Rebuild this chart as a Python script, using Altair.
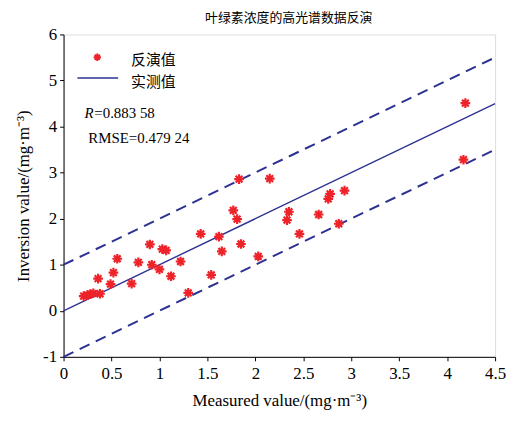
import altair as alt
import pandas as pd

# measured vs inversion values
measured = [0.21, 0.25, 0.28, 0.31, 0.38, 0.36, 0.49, 0.52, 0.56, 0.71, 0.78, 0.90, 0.92,
            1.00, 1.03, 1.07, 1.12, 1.22, 1.30, 1.43, 1.54, 1.62, 1.65, 1.77, 1.81, 1.83,
            1.85, 2.03, 2.15, 2.33, 2.35, 2.46, 2.66, 2.76, 2.78, 2.87, 2.93, 4.17, 4.19]
inversion = [0.32, 0.34, 0.36, 0.38, 0.37, 0.70, 0.58, 0.83, 1.13, 0.59, 1.05, 1.44, 1.00,
             0.90, 1.34, 1.31, 0.75, 1.07, 0.39, 1.67, 0.78, 1.61, 1.29, 2.18, 1.99, 2.86,
             1.45, 1.18, 2.87, 1.97, 2.15, 1.67, 2.09, 2.43, 2.54, 1.89, 2.61, 3.28, 4.51]

line_x = [0.0, 4.5]
line_y = [0.0, 4.5]
upper_y = [1.0, 5.5]
lower_y = [-1.0, 3.5]

x_ticks = [0, 0.5, 1, 1.5, 2, 2.5, 3, 3.5, 4, 4.5]
y_ticks = [-1, 0, 1, 2, 3, 4, 5, 6]

title_text = "叶绿素浓度的高光谱数据反演"
x_title = "Measured value/(mg·m⁻³)"
y_title = "Inversion value/(mg·m⁻³)"
legend_labels = ["反演值", "实测值"]
r_text = "=0.883 58"
rmse_text = "RMSE=0.479 24"

BLUE = "#2e3192"
RED = "#ee2229"
SERIF = "Liberation Serif"
CJK = "Noto Sans CJK SC"
STAR = "M-1,0L1,0M0,-1L0,1M-0.7,-0.7L0.7,0.7M-0.7,0.7L0.7,-0.7"

pts = pd.DataFrame({"x": measured, "y": inversion})
lines = pd.DataFrame({
    "x": line_x * 3,
    "y": line_y + upper_y + lower_y,
    "kind": ["solid"] * 2 + ["upper"] * 2 + ["lower"] * 2,
})

xscale = alt.Scale(domain=[0, 4.5], nice=False, zero=False)
yscale = alt.Scale(domain=[-1, 6], nice=False, zero=False)

common = dict(grid=False, domainColor="black", tickColor="black", tickSize=4,
              labelFont=SERIF, labelFontSize=17, labelColor="black", titleFont=SERIF,
              titleFontSize=17, titleFontWeight="normal", titleColor="black",
              labelFlush=False, labelExpr="'' + datum.value")
xaxis = alt.Axis(values=x_ticks, title=x_title, labelPadding=5, titlePadding=11, **common)
yaxis = alt.Axis(values=y_ticks, title=y_title, labelPadding=3, titlePadding=10, **common)

solid = alt.Chart(lines[lines.kind == "solid"]).mark_line(color=BLUE, strokeWidth=1.4).encode(
    x=alt.X("x:Q", scale=xscale, axis=xaxis),
    y=alt.Y("y:Q", scale=yscale, axis=yaxis),
)
dashed = alt.Chart(lines[lines.kind != "solid"]).mark_line(
    color=BLUE, strokeWidth=2, strokeDash=[11, 7]).encode(
    x=alt.X("x:Q", scale=xscale),
    y=alt.Y("y:Q", scale=yscale),
    detail="kind:N",
)
stars = alt.Chart(pts).mark_point(shape=STAR, filled=False, stroke=RED, strokeWidth=2.2,
                                  size=95, opacity=1).encode(
    x=alt.X("x:Q", scale=xscale),
    y=alt.Y("y:Q", scale=yscale),
)

one = pd.DataFrame({"a": [0]})
title_mark = alt.Chart(one).mark_text(text=title_text, font=CJK, fontSize=13, align="center",
                                      baseline="middle", color="black").encode(
    x=alt.value(227), y=alt.value(-17))
leg_star = alt.Chart(one).mark_point(shape=STAR, filled=False, stroke=RED, strokeWidth=2,
                                     size=55, opacity=1).encode(
    x=alt.value(34), y=alt.value(23))
leg_line = alt.Chart(one).mark_rule(color=BLUE, strokeWidth=1.5).encode(
    x=alt.value(14), x2=alt.value(55), y=alt.value(44))
leg_t1 = alt.Chart(one).mark_text(text=legend_labels[0], font=CJK, fontSize=15, align="left",
                                  baseline="middle", color="black").encode(
    x=alt.value(68), y=alt.value(26))
leg_t2 = alt.Chart(one).mark_text(text=legend_labels[1], font=CJK, fontSize=15, align="left",
                                  baseline="middle", color="black").encode(
    x=alt.value(68), y=alt.value(48))
r_lbl = alt.Chart(one).mark_text(text="R", font=SERIF, fontSize=15, fontStyle="italic",
                                 align="left", baseline="middle", color="black").encode(
    x=alt.value(21), y=alt.value(79))
r_val = alt.Chart(one).mark_text(text=r_text, font=SERIF, fontSize=15, align="left",
                                 baseline="middle", color="black").encode(
    x=alt.value(31), y=alt.value(79))
rmse = alt.Chart(one).mark_text(text=rmse_text, font=SERIF, fontSize=15, align="left",
                                baseline="middle", color="black").encode(
    x=alt.value(25), y=alt.value(104))

chart = alt.layer(dashed, solid, stars, title_mark, leg_star, leg_line, leg_t1, leg_t2,
                  r_lbl, r_val, rmse).properties(
    width=435, height=325,
    autosize=alt.AutoSizeParams(type="none"),
    padding={"left": 56, "top": 25, "right": 12, "bottom": 60},
).configure_view(stroke=None).configure(background="white")

chart.save("out.html", embed_options={"renderer": "svg", "actions": False})
